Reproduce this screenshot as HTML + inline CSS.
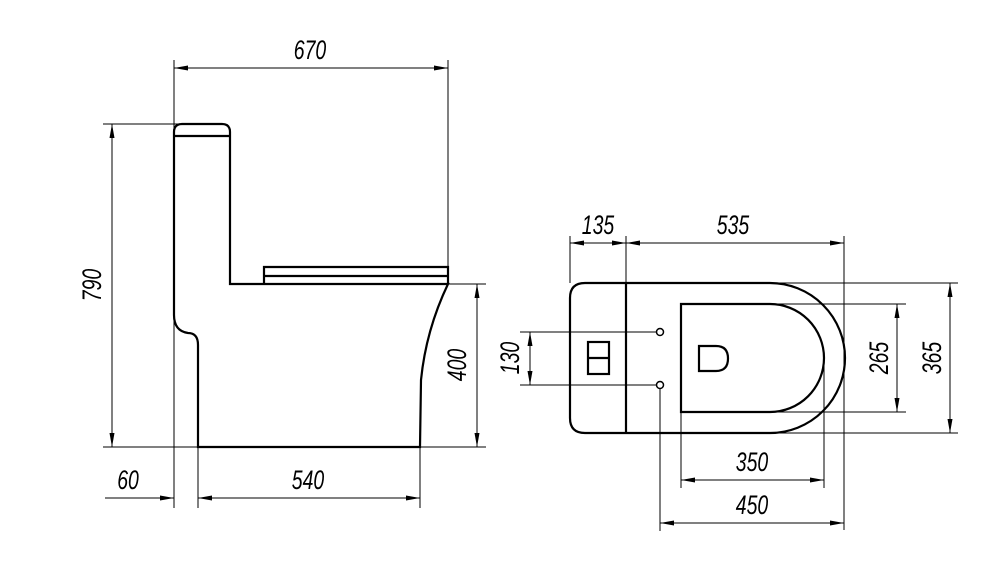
<!DOCTYPE html>
<html><head><meta charset="utf-8"><style>html,body{margin:0;padding:0;background:#fff}svg{display:block}</style></head><body>
<svg width="1000" height="569" viewBox="0 0 1000 569" xmlns="http://www.w3.org/2000/svg">
<defs>
<marker id="a" viewBox="0 0 14 6" refX="14" refY="3" markerWidth="14" markerHeight="6" orient="auto-start-reverse" markerUnits="userSpaceOnUse"><path d="M0,0.5 L14,3 L0,5.5 Z" fill="#000"/></marker>
</defs>
<g stroke="#000" stroke-width="1" fill="none">
<line x1="174" y1="60" x2="174" y2="508"/>
<line x1="448" y1="60" x2="448" y2="284"/>
<line x1="103" y1="124" x2="190" y2="124"/>
<line x1="103" y1="447" x2="486" y2="447"/>
<line x1="448" y1="284" x2="486" y2="284"/>
<line x1="198" y1="447" x2="198" y2="508"/>
<line x1="420" y1="447" x2="420" y2="508"/>
<line x1="174" y1="68" x2="448" y2="68" marker-start="url(#a)" marker-end="url(#a)"/>
<line x1="112" y1="124" x2="112" y2="447" marker-start="url(#a)" marker-end="url(#a)"/>
<line x1="477" y1="284" x2="477" y2="447" marker-start="url(#a)" marker-end="url(#a)"/>
<line x1="105" y1="498" x2="174" y2="498" marker-end="url(#a)"/>
<line x1="198" y1="498" x2="420" y2="498" marker-start="url(#a)" marker-end="url(#a)"/>
<line x1="570" y1="236" x2="570" y2="283"/>
<line x1="626" y1="236" x2="626" y2="283"/>
<line x1="844" y1="236" x2="844" y2="530"/>
<line x1="520" y1="332" x2="657" y2="332"/>
<line x1="520" y1="385" x2="657" y2="385"/>
<line x1="770" y1="304" x2="906" y2="304"/>
<line x1="770" y1="412" x2="906" y2="412"/>
<line x1="770" y1="283" x2="958" y2="283"/>
<line x1="770" y1="433" x2="958" y2="433"/>
<line x1="681" y1="412" x2="681" y2="488"/>
<line x1="824" y1="358" x2="824" y2="488"/>
<line x1="660" y1="388" x2="660" y2="531"/>
<line x1="570" y1="243" x2="626" y2="243" marker-start="url(#a)" marker-end="url(#a)"/>
<line x1="626" y1="243" x2="844" y2="243" marker-start="url(#a)" marker-end="url(#a)"/>
<line x1="530" y1="332" x2="530" y2="385" marker-start="url(#a)" marker-end="url(#a)"/>
<line x1="897" y1="304" x2="897" y2="412" marker-start="url(#a)" marker-end="url(#a)"/>
<line x1="950" y1="283" x2="950" y2="433" marker-start="url(#a)" marker-end="url(#a)"/>
<line x1="681" y1="480" x2="824" y2="480" marker-start="url(#a)" marker-end="url(#a)"/>
<line x1="660" y1="523" x2="844" y2="523" marker-start="url(#a)" marker-end="url(#a)"/>
</g>
<g stroke="#000" stroke-width="2.2" fill="none">
<path d="M198,447 L198,345 Q198,333 188,333 Q174,331 174,315 L174,132 Q174,124 182,124 L222,124 Q230,124 230,132 L230,284 L448,284 Q426,330 421,380 L420,447 Z"/>
<line x1="174" y1="136" x2="230" y2="136"/>
<path d="M264,284 L264,267 L448,267 L448,284"/>
<line x1="264" y1="276" x2="448" y2="276"/>
<path d="M585,283 L770,283 A75,75 0 0 1 770,433 L585,433 Q570,433 570,418 L570,298 Q570,283 585,283 Z"/>
<line x1="626" y1="283" x2="626" y2="433"/>
<path d="M681,304 L770,304 A54,54 0 0 1 770,412 L681,412 Z"/>
<path d="M699,346 L716,346 Q728,346 728,358.5 Q728,371 716,371 L699,371 Z"/>
<rect x="588" y="342" width="21" height="32"/>
<line x1="588" y1="358" x2="609" y2="358"/>
</g>
<g stroke="#000" stroke-width="1.5" fill="#fff">
<circle cx="660" cy="332" r="3.5"/>
<circle cx="660" cy="385" r="3.5"/>
</g>
<g font-family="Liberation Sans, sans-serif" font-style="italic" font-size="27" fill="#000" text-anchor="middle">
<text transform="translate(310,59) scale(0.72,1)">670</text>
<text transform="translate(128,489) scale(0.72,1)">60</text>
<text transform="translate(308,489) scale(0.72,1)">540</text>
<text transform="translate(101,285) rotate(-90) scale(0.72,1)">790</text>
<text transform="translate(466,365) rotate(-90) scale(0.72,1)">400</text>
<text transform="translate(598,234) scale(0.72,1)">135</text>
<text transform="translate(733,234) scale(0.72,1)">535</text>
<text transform="translate(519,358) rotate(-90) scale(0.72,1)">130</text>
<text transform="translate(888,358) rotate(-90) scale(0.72,1)">265</text>
<text transform="translate(941,358) rotate(-90) scale(0.72,1)">365</text>
<text transform="translate(752,471) scale(0.72,1)">350</text>
<text transform="translate(752,514) scale(0.72,1)">450</text>
</g>
</svg>
</body></html>
